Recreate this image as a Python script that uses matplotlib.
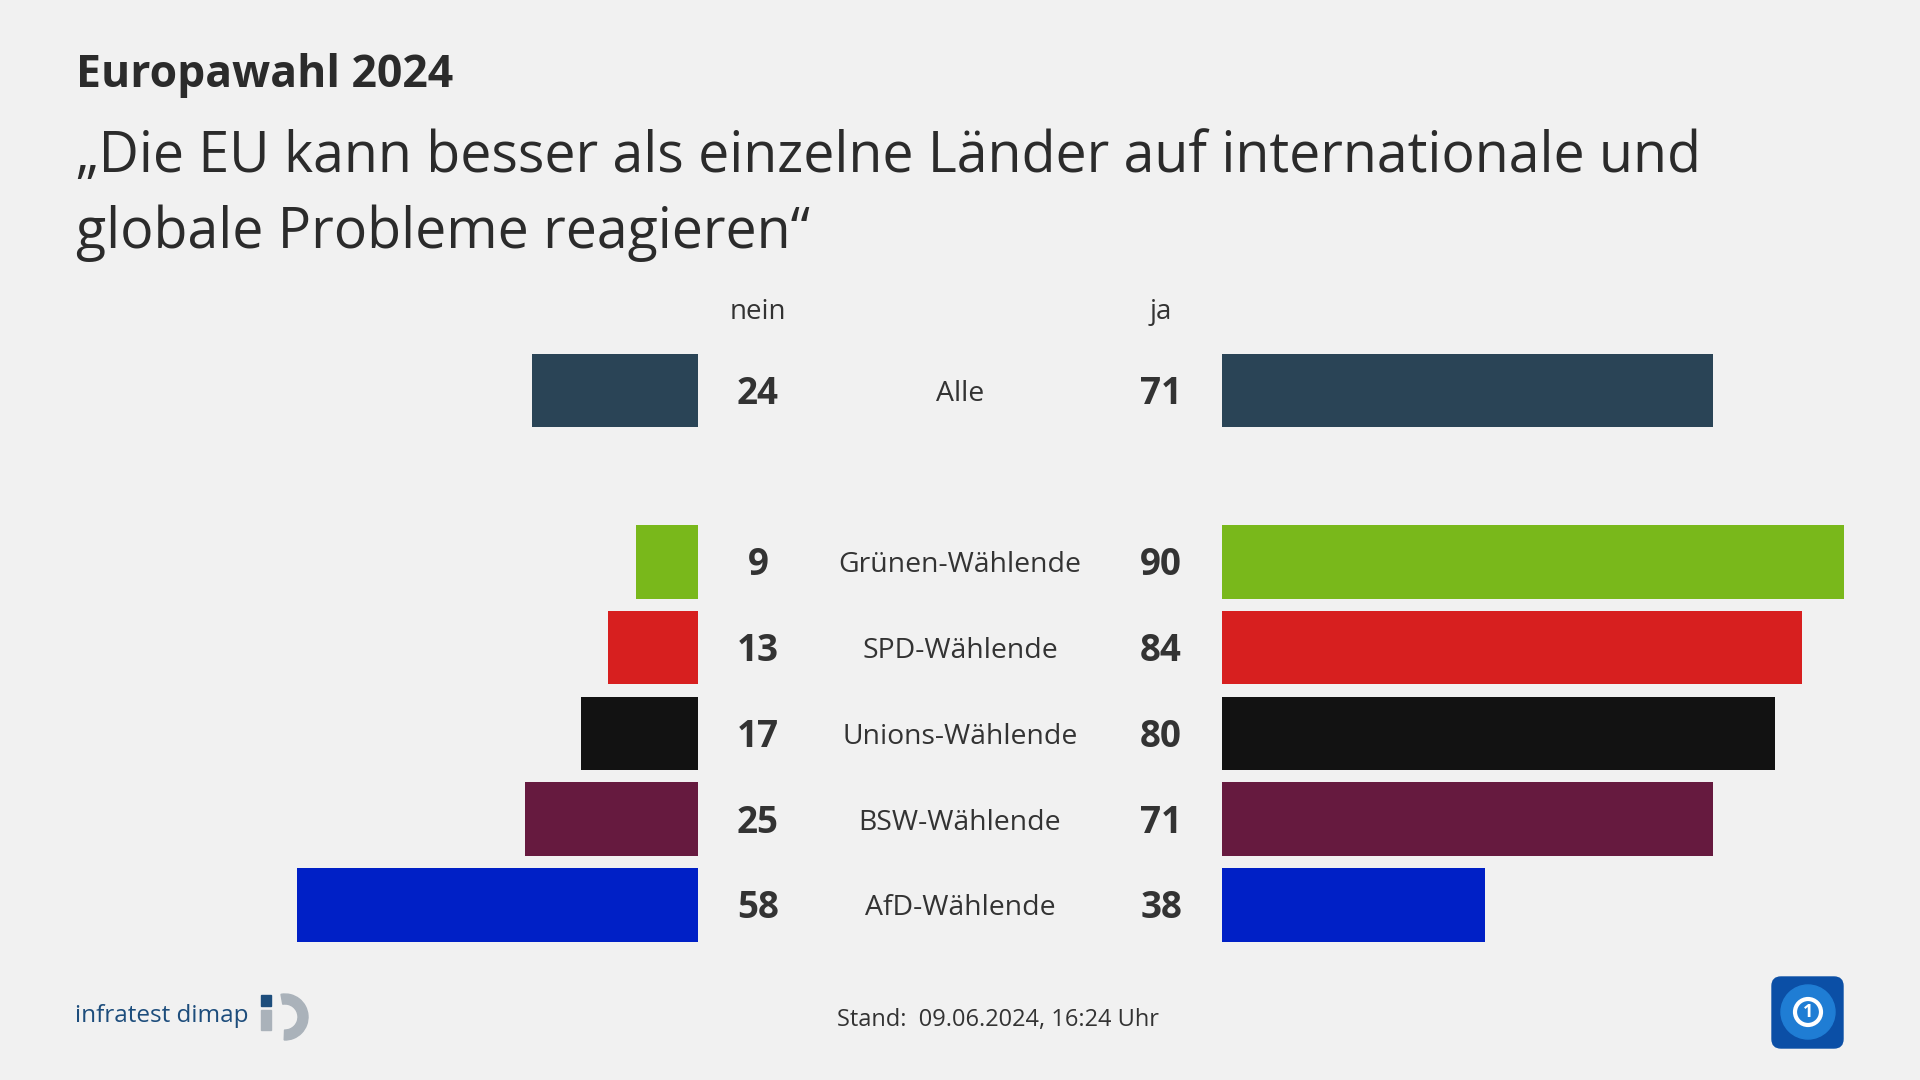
import matplotlib.pyplot as plt
from matplotlib.patches import Wedge, Rectangle, FancyBboxPatch, Circle
from matplotlib.transforms import blended_transform_factory

plt.rcParams["font.family"] = ["Open Sans", "DejaVu Sans"]

# Data
categories = ["Alle", "Grünen-Wählende", "SPD-Wählende", "Unions-Wählende",
              "BSW-Wählende", "AfD-Wählende"]
nein = [24, 9, 13, 17, 25, 58]
ja = [71, 90, 84, 80, 71, 38]
colors = ["#2a4456", "#79b81b", "#d71f1f", "#121212", "#661a3f", "#0020c6"]

title = "Europawahl 2024"
subtitle = ["„Die EU kann besser als einzelne Länder auf internationale und",
            "globale Probleme reagieren“"]
stand = "Stand:  09.06.2024, 16:24 Uhr"

bg = "#f1f1f1"
txt = "#333333"
W, H = 1920, 1080

fig = plt.figure(figsize=(19.2, 10.8), dpi=100, facecolor=bg)

# rows: "Alle" first, then a blank slot, then the party groups
ypos = [0] + [i + 2 for i in range(len(categories) - 1)]

unit = 6.91  # px per percentage point
ax_w = 100 * unit / W
ax_b = (H - 947.7) / H
ax_h = 600 / H
axl = fig.add_axes([698 / W - ax_w, ax_b, ax_w, ax_h])
axr = fig.add_axes([1222 / W, ax_b, ax_w, ax_h])
for ax in (axl, axr):
    ax.set_ylim(6.5, -0.5)
    ax.axis("off")
axl.set_xlim(100, 0)
axr.set_xlim(0, 100)

axl.barh(ypos, nein, height=0.857, color=colors)
axr.barh(ypos, ja, height=0.857, color=colors)

tr = blended_transform_factory(fig.transFigure, axl.transData)
dy = 0.04
for y, cat, n, j in zip(ypos, categories, nein, ja):
    axl.text(758 / W, y + dy, str(n), transform=tr, ha="center", va="center",
             fontsize=26.5, fontweight="bold", color=txt)
    axl.text(1161 / W, y + dy, str(j), transform=tr, ha="center", va="center",
             fontsize=26.5, fontweight="bold", color=txt)
    axl.text(960 / W, y + dy, cat, transform=tr, ha="center", va="center",
             fontsize=20.4, color=txt)

hy = (308.6 - 390.6) / 85.7 + dy
axl.text(758 / W, hy, "nein", transform=tr, ha="center", va="center",
         fontsize=20, color=txt)
axl.text(1161 / W, hy, "ja", transform=tr, ha="center", va="center",
         fontsize=20, color=txt)

# Titles
fig.text(76 / W, 1 - 87 / H, title, fontsize=32, fontweight="bold",
         color="#2b2b2b", va="baseline")
fig.text(76 / W, 1 - 172 / H, subtitle[0], fontsize=40, color="#2b2b2b",
         va="baseline")
fig.text(76 / W, 1 - 248 / H, subtitle[1], fontsize=40, color="#2b2b2b",
         va="baseline")

# Footer
fig.text(998 / W, 1 - 1020 / H, stand, fontsize=17, color=txt,
         ha="center", va="center")
fig.text(75 / W, 1 - 1016 / H, "infratest dimap", fontsize=17.5,
         color="#1d4d7c", va="center")

# Logos drawn in a pixel-space overlay
deco = fig.add_axes([0, 0, 1, 1], facecolor="none")
deco.set_xlim(0, W)
deco.set_ylim(0, H)
deco.axis("off")
deco.add_patch(Rectangle((261, H - 1006), 10, 11, color="#1d4d7c"))
deco.add_patch(Rectangle((261, H - 1030), 10, 20, color="#aab2ba"))
deco.add_patch(Wedge((285, H - 1017), 23, -92, 100, width=10,
                     color="#aab2ba"))

deco.add_patch(FancyBboxPatch((1772, H - 1048), 71, 71,
                              boxstyle="round,pad=0,rounding_size=9",
                              color="#0b4fa6"))
deco.add_patch(Circle((1808, H - 1012), 27, color="#1f7dd4"))
deco.add_patch(Circle((1808, H - 1012), 13, fill=False, ec="white", lw=3))
deco.text(1808, H - 1012, "1", color="white", fontsize=13,
          fontweight="bold", ha="center", va="center")

fig.savefig("out.png", dpi=100, facecolor=bg)
